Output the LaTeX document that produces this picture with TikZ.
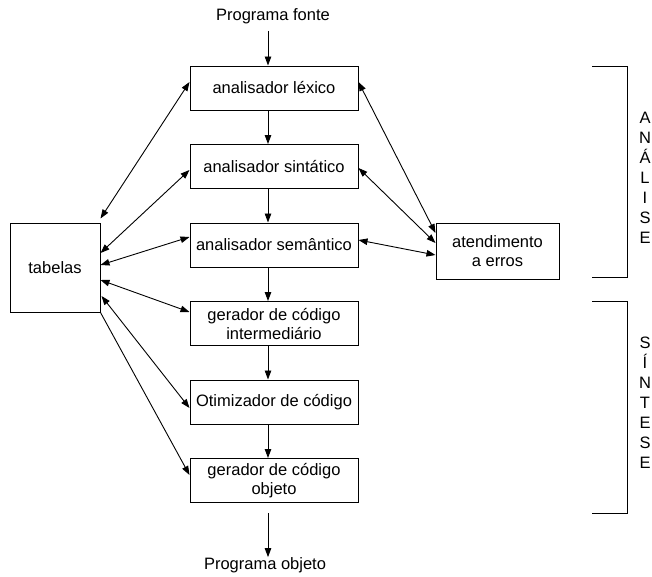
\documentclass[tikz,border=0pt]{standalone}
\usepackage{fontspec}
\setmainfont{Liberation Sans}
\usetikzlibrary{arrows.meta}
\begin{document}
\begin{tikzpicture}[x=1pt,y=-1pt,
  every node/.style={font=\fontsize{16.5}{20}\selectfont},
  stage/.style={draw,line width=1pt,minimum width=168pt,minimum height=44pt,inner sep=0pt,align=center},
  plain/.style={inner sep=0pt},
  arr/.style={line width=0.9pt,-{Triangle[length=9pt,width=6.5pt]}},
  dbl/.style={line width=0.9pt,{Triangle[length=9pt,width=6.5pt]}-{Triangle[length=9pt,width=6.5pt]}},
  brk/.style={line width=1pt}]
\useasboundingbox (0,0) rectangle (652,576);
\node[plain] (src) at (273,16) {Programa fonte};
\node[stage] (b1) at (274,88) {analisador léxico};
\node[stage] (b2) at (274,166.5) {analisador sintático};
\node[stage] (b3) at (274,245) {analisador semântico};
\node[stage] (b4) at (274,323.5) {gerador de código\\[-1pt]intermediário};
\node[stage] (b5) at (274,402) {Otimizador de código};
\node[stage] (b6) at (274,480.5) {gerador de código\\[-1pt]objeto};
\node[plain] (dst) at (265,565) {Programa objeto};
\node[draw,line width=1pt,minimum width=90pt,minimum height=89pt,inner sep=0pt] (tab) at (55,267.5) {tabelas};
\node[draw,line width=1pt,minimum width=123pt,minimum height=56pt,inner sep=0pt,align=center] (err) at (497.5,251) {atendimento\\[-1pt]a erros};
% main flow
\draw[arr,shorten <=7pt] ([xshift=-5pt]src.south) -- ([xshift=-6pt]b1.north);
\draw[arr] ([xshift=-6pt]b1.south) -- ([xshift=-6pt]b2.north);
\draw[arr] ([xshift=-6pt]b2.south) -- ([xshift=-6pt]b3.north);
\draw[arr] ([xshift=-6pt]b3.south) -- ([xshift=-6pt]b4.north);
\draw[arr] ([xshift=-6pt]b4.south) -- ([xshift=-6pt]b5.north);
\draw[arr] ([xshift=-6pt]b5.south) -- ([xshift=-6pt]b6.north);
\draw[arr,shorten <=10pt] ([xshift=-6pt]b6.south) -- ([xshift=3pt]dst.north);
% tabelas
\draw[dbl] ([yshift=4pt]tab.north east) -- ([yshift=6pt]b1.west);
\draw[dbl] ([yshift=14.5pt]tab.east) -- ([yshift=-3.5pt]b2.west);
\draw[dbl] ([yshift=2.5pt]tab.east) -- ([yshift=8pt]b3.west);
\draw[dbl] ([yshift=-12.5pt]tab.east) -- ([yshift=11.5pt]b4.west);
\draw[dbl] ([xshift=1pt,yshift=-28.5pt]tab.east) -- ([yshift=-6pt]b5.west);
\draw[arr] (tab.south east) -- ([yshift=5.5pt]b6.west);
% atendimento a erros
\draw[dbl] ([yshift=6pt]b1.east) -- ([yshift=18pt]err.west);
\draw[dbl] ([yshift=-1.5pt]b2.east) -- ([yshift=8pt]err.west);
\draw[dbl] ([yshift=5pt]b3.east) -- ([yshift=-4pt]err.west);
% brackets
\draw[brk] (592,66) -- (627,66) -- (627,277) -- (592,277);
\draw[brk] (592,301) -- (627,301) -- (627,513) -- (592,513);
\node[plain,align=center] (ana) at (645,178) {A\\N\\Á\\L\\I\\S\\E};
\node[plain,align=center] (sin) at (645,403) {S\\Í\\N\\T\\E\\S\\E};
\end{tikzpicture}
\end{document}
